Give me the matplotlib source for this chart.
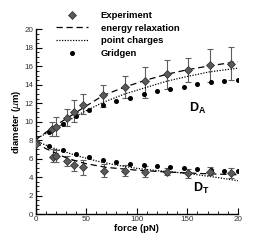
import numpy as np
import matplotlib
matplotlib.use("Agg")
import matplotlib.pyplot as plt
from matplotlib.ticker import MultipleLocator

# Experiment, D_A branch
exp_a_force = [0, 16.5, 20, 31, 38, 46.7, 67, 88, 108.6, 130, 151, 172, 193]
exp_a_diam = [7.8, 9.2, 9.45, 10.4, 11.05, 11.8, 12.9, 13.75, 14.45, 15.2, 15.6, 16.1, 16.3]
exp_a_lo = [7.8, 8.5, 8.5, 9.5, 10.0, 10.8, 11.6, 12.6, 12.6, 13.5, 14.3, 14.3, 14.5]
exp_a_hi = [7.8, 10.0, 10.5, 11.4, 12.3, 13.0, 14.0, 15.0, 15.9, 16.7, 16.9, 17.9, 18.1]

# Experiment, D_T branch
exp_t_force = [0, 17, 20.4, 31, 38, 46.7, 67.8, 88, 108.6, 130, 151, 172, 193]
exp_t_diam = [7.55, 6.15, 6.28, 5.7, 5.3, 5.05, 4.65, 4.65, 4.55, 4.5, 4.4, 4.55, 4.4]
exp_t_lo = [7.55, 5.6, 5.6, 5.2, 4.7, 4.2, 4.0, 4.1, 4.0, 4.2, 3.9, 4.2, 3.9]
exp_t_hi = [7.55, 7.0, 6.9, 6.3, 5.9, 5.9, 5.4, 5.3, 5.2, 5.0, 4.9, 5.1, 5.0]

# energy relaxation model
er_force = [0, 20, 40, 50, 67, 88, 109, 130, 151, 172, 193, 200]
er_a = [8.05, 9.6, 11.0, 11.7, 12.85, 13.75, 14.5, 15.15, 15.65, 16.05, 16.4, 16.5]
er_t_force = [0, 10, 20, 30, 40, 50, 70, 100, 130, 160, 200]
er_t = [7.8, 7.1, 6.6, 6.1, 5.75, 5.45, 5.05, 4.75, 4.55, 4.4, 4.25]

# point charges model
pc_force = [0, 20, 40, 50, 67, 88, 109, 130, 150, 172, 200]
pc_a = [8.1, 9.3, 10.6, 11.2, 12.1, 13.0, 13.7, 14.4, 14.9, 15.4, 15.8]
pc_t_force = [0, 20, 40, 60, 80, 100, 120, 140, 160, 180, 200]
pc_t = [7.9, 7.05, 6.35, 5.75, 5.3, 4.95, 4.7, 4.5, 4.25, 3.95, 3.6]

# Gridgen
gg_force = [0, 13.3, 26.7, 40, 53.3, 66.7, 80, 93.3, 106.7, 120, 133.3, 146.7, 160, 173.3, 186.7, 200]
gg_a = [7.8, 8.85, 9.8, 10.6, 11.3, 11.8, 12.25, 12.6, 13.0, 13.3, 13.5, 13.8, 14.05, 14.25, 14.4, 14.5]
gg_t = [7.8, 7.36, 6.9, 6.5, 6.2, 5.9, 5.65, 5.4, 5.3, 5.2, 5.1, 4.97, 4.88, 4.77, 4.7, 4.65]

x_ticks = [0, 50, 100, 150, 200]
x_tick_labels = ["0", "50", "100", "150", "20"]

plt.rcParams["font.family"] = ["Liberation Sans", "DejaVu Sans"]

fig = plt.figure(figsize=(2.71, 2.41), dpi=100)
ax = fig.add_axes([0.131, 0.112, 0.747, 0.766])

# Error bars
for f, d, lo, hi in [(exp_a_force, exp_a_diam, exp_a_lo, exp_a_hi),
                     (exp_t_force, exp_t_diam, exp_t_lo, exp_t_hi)]:
    d = np.array(d)
    yerr = [d - np.array(lo), np.array(hi) - d]
    ax.errorbar(f, d, yerr=yerr, fmt="none", ecolor="#5e5e5e", elinewidth=0.8,
                capsize=2.5, capthick=0.8, zorder=2)

# Model curves
ax.plot(er_force, er_a, color="black", linestyle=(0, (5, 3)), linewidth=0.9, zorder=3)
ax.plot(er_t_force, er_t, color="black", linestyle=(0, (5, 3)), linewidth=0.9, zorder=3)
ax.plot(pc_force, pc_a, color="black", linestyle=(0, (1, 1.2)), linewidth=0.9, zorder=3)
ax.plot(pc_t_force, pc_t, color="black", linestyle=(0, (1, 1.2)), linewidth=0.9, zorder=3)

# Gridgen points
ax.plot(gg_force, gg_a, "o", color="black", markersize=2.6, zorder=4)
ax.plot(gg_force, gg_t, "o", color="black", markersize=2.6, zorder=4)

# Experiment diamonds
ax.plot(exp_a_force, exp_a_diam, "D", color="#5a5a5a", markeredgecolor="#2a2a2a",
        markeredgewidth=0.5, markersize=4.4, zorder=5)
ax.plot(exp_t_force, exp_t_diam, "D", color="#5a5a5a", markeredgecolor="#2a2a2a",
        markeredgewidth=0.5, markersize=4.4, zorder=5)

# Branch labels
ax.text(160.5, 11.4, "D$_\\mathregular{A}$", fontsize=9, fontweight="bold", ha="center", va="center")
ax.text(164, 2.8, "D$_\\mathregular{T}$", fontsize=9, fontweight="bold", ha="center", va="center")

# Legend handles
h_exp, = ax.plot([], [], "D", color="#5a5a5a", markeredgecolor="#2a2a2a",
                 markeredgewidth=0.5, markersize=4.4)
h_er, = ax.plot([], [], color="black", linestyle=(0, (5, 3)), linewidth=0.9)
h_pc, = ax.plot([], [], color="black", linestyle=(0, (1, 1.2)), linewidth=0.9)
h_gg, = ax.plot([], [], "o", color="black", markersize=2.6)
leg = fig.legend([h_exp, h_er, h_pc, h_gg],
                 ["Experiment", "energy relaxation", "point charges", "Gridgen"],
                 loc="upper left", bbox_to_anchor=(0.18, 0.985), frameon=False,
                 fontsize=6.8, handlelength=3.3, handletextpad=1.4,
                 labelspacing=0.38, borderpad=0.3)
for t in leg.get_texts():
    t.set_fontweight("bold")

ax.set_xlim(0, 200)
ax.set_ylim(0, 20)
ax.set_xticks(x_ticks)
ax.set_xticklabels(x_tick_labels)
ax.set_yticks(np.arange(0, 21, 2))
ax.xaxis.set_minor_locator(MultipleLocator(10))
ax.yaxis.set_minor_locator(MultipleLocator(0.5))
ax.tick_params(which="both", direction="in", labelsize=5.8, colors="black", pad=1.5)
ax.tick_params(which="major", length=4, width=0.8)
ax.tick_params(which="minor", length=2, width=0.6)
for lbl in ax.get_xticklabels() + ax.get_yticklabels():
    lbl.set_color("#333333")

ax.spines["top"].set_visible(False)
ax.spines["right"].set_visible(False)
ax.spines["left"].set_linewidth(1.0)
ax.spines["bottom"].set_linewidth(1.0)

ax.set_xlabel("force (pN)", fontsize=6.8, fontweight="bold", labelpad=0.5)
ax.set_ylabel("diameter ($\\mu$m)", fontsize=6.8, fontweight="bold", labelpad=1)

fig.savefig("out.png", dpi=100)
